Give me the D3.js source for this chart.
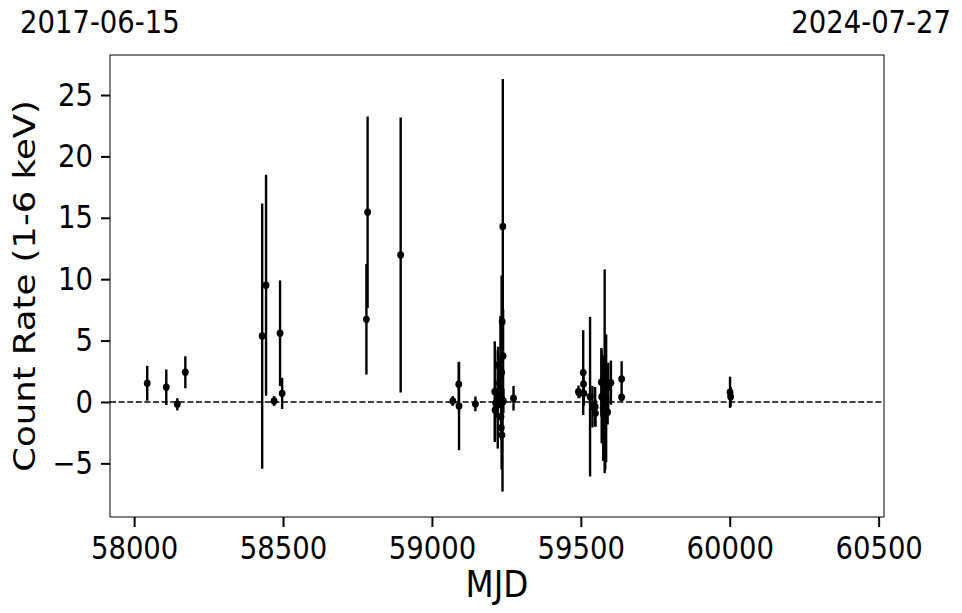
<!DOCTYPE html>
<html>
<head>
<meta charset="utf-8">
<script src="https://cdn.jsdelivr.net/npm/d3@7"></script>
<style>
  html, body { margin: 0; padding: 0; background: #fff; }
  svg { display: block; }
  text { font-family: "DejaVu Sans", sans-serif; fill: #000; }
</style>
</head>
<body>
<svg id="chart" width="962" height="613"></svg>
<script>
// ---- data ----
const mjd = [58044, 58108, 58145, 58172, 58430, 58443, 58470, 58490, 58497, 58780, 58784, 58895,
  59070, 59090, 59091, 59146,
  59211, 59212, 59214, 59221, 59222, 59227, 59230, 59232, 59233, 59234, 59235, 59236, 59237, 59238, 59239, 59240,
  59274,
  59492, 59495, 59508, 59509, 59510, 59531, 59539, 59548, 59549, 59569, 59570, 59575, 59580, 59582, 59585, 59590, 59592, 59601,
  59637, 59637, 60001, 60003];
const rate = [1.52, 1.20, -0.19, 2.42, 5.37, 9.50, 0.08, 5.60, 0.70, 6.73, 15.45, 11.97,
  0.08, 1.44, -0.33, -0.16,
  0.84, -0.65, -0.10, 0.20, 3.00, 1.50, 3.40, -1.20, -2.10, 2.40, -2.70, 6.54, 0.00, 14.30, 3.75, 0.08,
  0.30,
  0.84, 0.70, 2.39, 1.46, 0.70, 0.43, -0.38, -0.38, -0.92, 1.60, 0.43, -0.50, 2.50, -0.92, 0.30, -0.84, 1.20, 1.57,
  1.87, 0.38, 0.79, 0.43];
const rateErr = [1.42, 1.45, 0.5, 1.3, 10.8, 9.0, 0.4, 4.3, 1.27, 4.5, 7.8, 11.2,
  0.4, 1.8, 3.6, 0.6,
  4.1, 2.5, 1.2, 4.0, 1.5, 2.0, 3.6, 1.5, 1.0, 7.9, 1.2, 1.0, 7.3, 12.0, 3.8, 1.0,
  1.0,
  0.5, 0.4, 3.45, 1.2, 1.0, 6.5, 1.7, 1.6, 1.1, 2.8, 3.8, 4.3, 8.3, 4.6, 5.2, 1.0, 2.0, 1.8,
  1.45, 0.3, 1.27, 0.8];
const xTicks = [58000, 58500, 59000, 59500, 60000, 60500];
const yTicks = [-5, 0, 5, 10, 15, 20, 25];
const startLabel = "2017-06-15";
const endLabel = "2024-07-27";
const xDomain = [57919, 60518];   // MJD of the two dates
const yDomain = [-9.37, 28.26];
const xLabel = "MJD";
const yLabel = "Count Rate (1-6 keV)";

// ---- layout ----
const L = 110, R = 884, T = 55, B = 517;
const sx = 0.87;            // horizontal text compression seen in the reference
const tickFont = 31.6;

const svg = d3.select("#chart");
const x = d3.scaleLinear().domain(xDomain).range([L, R]);
const y = d3.scaleLinear().domain(yDomain).range([B, T]);

const data = mjd.map((m, i) => ({ m, v: rate[i], e: rateErr[i] }));

// zero line
svg.append("line")
  .attr("x1", L).attr("x2", R)
  .attr("y1", y(0)).attr("y2", y(0))
  .attr("stroke", "#000").attr("stroke-width", 1.6)
  .attr("stroke-dasharray", "6,2.6");

// error bars
svg.append("g").selectAll("line").data(data).join("line")
  .attr("x1", d => x(d.m)).attr("x2", d => x(d.m))
  .attr("y1", d => y(d.v - d.e)).attr("y2", d => y(d.v + d.e))
  .attr("stroke", "#000").attr("stroke-width", 2.4);

// points
svg.append("g").selectAll("ellipse").data(data).join("ellipse")
  .attr("cx", d => x(d.m)).attr("cy", d => y(d.v))
  .attr("rx", 3.4).attr("ry", 3.7)
  .attr("fill", "#000");

// frame
svg.append("rect")
  .attr("x", L).attr("y", T).attr("width", R - L).attr("height", B - T)
  .attr("fill", "none").attr("stroke", "#000").attr("stroke-width", 1);

function compressText(sel) {
  sel.each(function () {
    const t = d3.select(this);
    const tx = +t.attr("x") || 0;
    t.attr("transform", `translate(${tx},0) scale(${sx},1) translate(${-tx},0)`);
  });
}

// x axis
const gx = svg.append("g").attr("transform", `translate(0,${B})`)
  .call(d3.axisBottom(x).tickValues(xTicks).tickFormat(d3.format("d")).tickSize(10).tickPadding(10));
gx.select(".domain").remove();
gx.selectAll(".tick line").attr("stroke", "#000").attr("stroke-width", 2);
gx.selectAll(".tick text").attr("font-size", tickFont).attr("font-family", "DejaVu Sans").attr("fill", "#000")
  .call(compressText);

// y axis
const gy = svg.append("g").attr("transform", `translate(${L},0)`)
  .call(d3.axisLeft(y).tickValues(yTicks).tickSize(9).tickPadding(8));
gy.select(".domain").remove();
gy.selectAll(".tick line").attr("stroke", "#000").attr("stroke-width", 2);
gy.selectAll(".tick text").attr("font-size", tickFont).attr("font-family", "DejaVu Sans").attr("fill", "#000")
  .call(compressText);

// axis labels
svg.append("text")
  .attr("transform", `translate(${(L + R) / 2},597) scale(${sx},1)`)
  .attr("text-anchor", "middle").attr("font-size", 37.5)
  .text(xLabel);
svg.append("text")
  .attr("transform", `translate(35,${(T + B) / 2}) scale(${sx},1) rotate(-90)`)
  .attr("text-anchor", "middle").attr("font-size", 35.5)
  .text(yLabel);

// date labels
svg.append("text")
  .attr("transform", `translate(20,33) scale(${sx},1)`)
  .attr("text-anchor", "start").attr("font-size", tickFont)
  .text(startLabel);
svg.append("text")
  .attr("transform", `translate(951,33) scale(${sx},1)`)
  .attr("text-anchor", "end").attr("font-size", tickFont)
  .text(endLabel);
</script>
</body>
</html>
